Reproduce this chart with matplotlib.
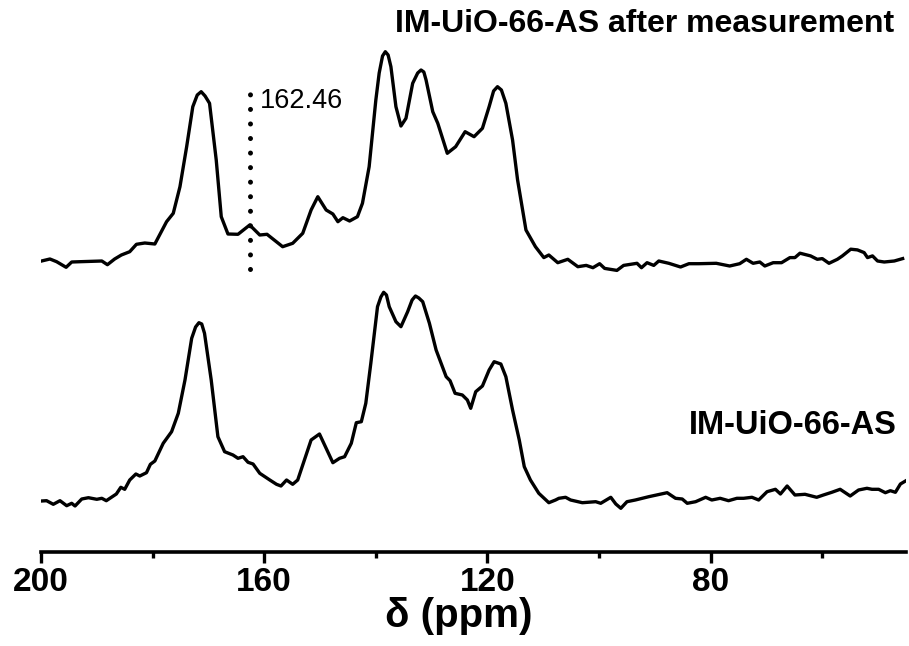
import matplotlib
matplotlib.use('Agg')
import matplotlib.pyplot as plt

# chemical shift (ppm) and intensity
ppm_after = [199.9, 198.4, 197.2, 195.5, 194.5, 193.0, 189.1, 188.1, 186.8, 185.6, 184.1, 182.9,
             181.4, 179.6, 177.5, 176.3, 175.1, 173.9, 172.8, 172.0, 171.3, 170.6, 169.8, 168.6,
             167.7, 166.5, 164.7, 162.6, 160.8, 159.5, 156.7, 154.9, 153.1, 151.6, 150.4, 148.9,
             147.7, 146.8, 145.9, 144.7, 143.3, 142.4, 141.2, 140.0, 139.4, 138.8, 138.3, 137.8,
             137.3, 136.4, 135.5, 134.6, 133.4, 132.5, 131.9, 131.4, 131.0, 129.8, 128.9, 127.2,
             125.7, 124.0, 122.4, 120.9, 119.7, 118.9, 118.2, 117.5, 116.7, 115.5, 114.6, 113.1,
             111.4, 109.9, 109.0, 107.4, 105.6, 103.8, 102.3, 101.1, 99.9, 99.0, 96.8, 95.6,
             93.2, 92.4, 91.4, 90.2, 89.3, 87.5, 85.4, 83.9, 82.1, 79.0, 76.6, 74.8, 73.6, 72.4,
             71.2, 70.3, 68.8, 67.3, 65.8, 64.9, 64.0, 62.1, 60.9, 60.0, 58.8, 57.3, 56.4, 54.9,
             53.7, 52.5, 51.9, 51.0, 50.1, 48.9, 47.1, 45.6]
int_after = [2, 4, 1.3, -4.3, 1, 1.3, 2, -1.7, 4, 8, 11.3, 18.7,
             20, 19, 41.3, 49.7, 76.3, 116.3, 156.3, 168, 171.3, 167, 159.7, 103,
             46.3, 29, 28.7, 38, 28, 28.7, 16.3, 19.7, 29.7, 53, 66.3, 53,
             49, 41.3, 45.3, 42, 46.3, 59.7, 96.3, 163, 190, 207, 211.3, 208,
             196.3, 156.3, 137, 144.7, 179.7, 190, 193, 191, 183, 151.3, 139.7, 109.7,
             116.3, 131.3, 126.3, 134.7, 156.3, 172, 176.3, 173, 159.7, 123, 83, 33,
             16.3, 5.4, 8, 0.3, 3.7, -3.7, -2.4, -4.7, -0.7, -5.4, -7.4, -2.4,
             -0.3, -4.7, 0.3, -2.4, 2, -0.3, -4, -0.7, -0.7, -0.3, -3, -0.7, 3.7, -0.3,
             1, -3, 0.3, 0.3, 5.4, 5.4, 9.8, 7.1, 3.7, 4.4, -0.3, 3.7, 7.1, 13.8,
             13.1, 10.4, 5.4, 7.1, 2, 1, 2, 4.4]

ppm_as = [199.9, 199.0, 197.8, 196.6, 195.4, 194.5, 193.9, 192.7, 191.5, 190.0, 189.1, 188.3,
          186.5, 185.7, 185.0, 184.1, 183.0, 182.3, 181.1, 180.4, 179.6, 178.1, 176.6, 175.4,
          174.2, 173.0, 172.3, 171.7, 171.2, 170.7, 169.5, 168.3, 167.1, 165.6, 164.7, 163.8,
          162.9, 162.0, 160.8, 159.0, 157.8, 157.0, 156.0, 154.9, 154.0, 152.8, 151.6, 150.1,
          148.9, 147.7, 146.5, 145.6, 144.4, 143.5, 142.6, 141.8, 140.9, 139.7, 139.1, 138.6,
          138.1, 137.6, 136.4, 135.5, 134.3, 133.5, 132.9, 132.3, 131.6, 130.4, 129.2, 127.4,
          126.7, 125.8, 124.5, 123.6, 123.0, 122.1, 120.9, 119.7, 118.8, 117.6, 116.7, 115.5,
          114.3, 113.4, 112.3, 110.8, 109.0, 107.8, 107.2, 106.0, 105.1, 103.0, 100.6, 99.7,
          97.9, 97.0, 96.1, 95.0, 93.5, 91.1, 87.8, 86.3, 85.1, 84.2, 82.7, 80.9, 79.8, 78.3,
          76.8, 75.3, 74.1, 72.6, 71.4, 69.9, 68.4, 67.5, 66.3, 64.9, 63.1, 61.0, 59.8, 58.3,
          56.8, 55.9, 55.0, 53.5, 52.0, 51.1, 49.9, 48.7, 47.8, 46.9, 46.0, 45.0]
int_as = [-1, -0.7, -4.3, -0.7, -5.7, -3.3, -6, 1, 2.3, 0.7, 1.7, -0.7,
          6, 12.7, 10.7, 20, 26, 24, 27.3, 35.7, 39, 56.7, 68.3, 86.7,
          120, 161.7, 173, 177.3, 176, 166.7, 120, 63.3, 48.3, 45, 41.7, 43.3,
          37.7, 36, 26.7, 20, 15.7, 14, 20, 15.7, 20, 40, 60, 66,
          51.7, 37.3, 41.7, 43.3, 56.7, 77.3, 78.3, 96.7, 136.7, 193.3, 203, 207.7,
          205, 193.3, 178.3, 173.3, 188.3, 200, 204, 202, 198.3, 176.7, 150, 123.3,
          119.3, 106.7, 105, 100, 91.7, 108.3, 114, 130, 138.3, 136, 123.3, 90,
          60, 33.3, 20, 6.7, -2.7, 0, 1.7, 2.7, 0, -2.7, -1.7, -3.3,
          2.7, -4, -8.3, -1.7, 0, 3.3, 7.3, 1.7, 1, -3.3, -1.7, 2.7, 0, 1.7,
          -0.7, 1.7, 1.7, 2.7, 0, 8.3, 10.7, 6, 14, 5, 5.7, 2.7, 5, 7.7,
          10.7, 7.3, 4, 10, 11.7, 10.7, 10.7, 7.3, 9.3, 7.7, 16, 19.3]

offset_after = 289
offset_as = 52
marker_ppm = 162.46
xticks_major = [200, 160, 120, 80]
xticks_minor = [180, 140, 100, 60]

fig = plt.figure(figsize=(9.09, 6.46), dpi=100)
ax = fig.add_axes([41/909, 94/646, 865/909, 552/646])

ax.plot(ppm_after, [v + offset_after for v in int_after], color='black', lw=2.4,
        solid_joinstyle='round')
ax.plot(ppm_as, [v + offset_as for v in int_as], color='black', lw=2.4,
        solid_joinstyle='round')

# dotted marker line
ax.plot([marker_ppm, marker_ppm], [offset_after - 6, offset_after + 182], color='black',
        lw=3.6, linestyle=(0, (0.01, 2.9)), dash_capstyle='round')
ax.text(marker_ppm - 1.6, offset_after + 162, '162.46', fontsize=19.5, va='center', ha='left',
        family='Liberation Sans')

ax.text(47.1, offset_after + 239, 'IM-UiO-66-AS after measurement', fontsize=23, fontweight='bold',
        ha='right', va='center', family='Liberation Sans')
ax.text(46.7, offset_as + 74, 'IM-UiO-66-AS', fontsize=23.5, fontweight='bold',
        ha='right', va='center', family='Liberation Sans')

ax.set_xlim(200, 45)
ax.set_ylim(0, 552)
ax.set_xticks(xticks_major)
ax.set_xticks(xticks_minor, minor=True)
ax.set_yticks([])
for s in ['left', 'right', 'top']:
    ax.spines[s].set_visible(False)
ax.spines['bottom'].set_linewidth(2.6)
ax.tick_params(axis='x', which='major', length=8, width=2.4, pad=3)
ax.tick_params(axis='x', which='minor', length=4.5, width=2.4)
for lab in ax.get_xticklabels():
    lab.set_fontsize(24)
    lab.set_fontweight('bold')
    lab.set_family('Liberation Sans')
ax.set_xlabel('δ (ppm)', fontsize=29, fontweight='bold', family='Liberation Sans')
ax.xaxis.set_label_coords((459 - 41) / 865, -0.082)
ax.xaxis.label.set_va('top')

fig.savefig('out.png', dpi=100)
